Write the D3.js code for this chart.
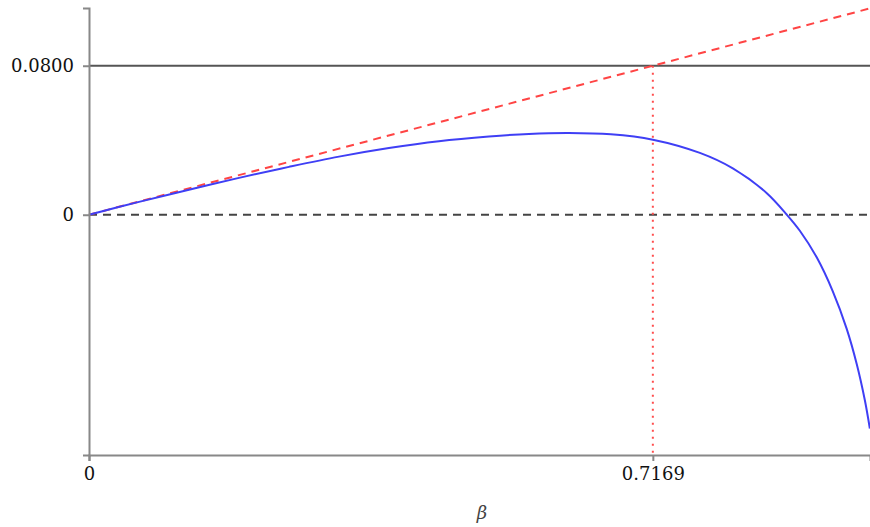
<!DOCTYPE html>
<html>
<head>
<meta charset="utf-8">
<script src="https://cdn.jsdelivr.net/npm/d3@7"></script>
<style>
  body { margin: 0; background: #fff; }
  svg text { font-family: "DejaVu Serif", serif; }
</style>
</head>
<body>
<svg id="chart" width="870" height="527"></svg>
<script>
// values
const betaMax = 0.993;
const betaStar = 0.7169;
const level = 0.08;
const yTicks = [0.08, 0];
const yTickLabels = ["0.0800", "0"];
const xTicks = [0, 0.7169];
const xTickLabels = ["0", "0.7169"];

// blue curve samples
const curveBeta = [0, 0.0636, 0.1271, 0.1907, 0.2542, 0.3178, 0.3813, 0.4449, 0.5085, 0.5593, 0.6101, 0.6635, 0.7169,
                   0.7767, 0.8186, 0.8618, 0.8873, 0.9038, 0.9254, 0.9457, 0.9635, 0.9762, 0.9864, 0.9928];
const curveVal  = [0, 0.0069, 0.0134, 0.0198, 0.0257, 0.0312, 0.0358, 0.0395, 0.0420, 0.0434, 0.0439, 0.0432, 0.0403,
                   0.0332, 0.0249, 0.0116, 0.0000, -0.0086, -0.0230, -0.0411, -0.0614, -0.0803, -0.0995, -0.1148];

// red tangent line (two ends)
const tangentBeta = [0, 0.993];
const tangentVal = [0, 0.1108];

const svg = d3.select("#chart");

const x = d3.scaleLinear().domain([0, betaMax]).range([89, 870]);
const y = d3.scaleLinear().domain([-0.129, 0.111]).range([455, 8]);

// horizontal level line
svg.append("line")
  .attr("x1", x(0)).attr("x2", x(betaMax))
  .attr("y1", y(level)).attr("y2", y(level))
  .attr("stroke", "#555").attr("stroke-width", 2);

// zero dashed line
svg.append("line")
  .attr("x1", x(0)).attr("x2", x(betaMax))
  .attr("y1", y(0)).attr("y2", y(0))
  .attr("stroke", "#444").attr("stroke-width", 2)
  .attr("stroke-dasharray", "8,6");

// vertical dotted marker
svg.append("line")
  .attr("x1", x(betaStar)).attr("x2", x(betaStar))
  .attr("y1", y(level)).attr("y2", y(-0.129))
  .attr("stroke", "#ff4d4d").attr("stroke-width", 2)
  .attr("stroke-dasharray", "2,5");

// tangent
const tangent = tangentBeta.map((b, i) => [b, tangentVal[i]]);
svg.append("path")
  .datum(tangent)
  .attr("fill", "none")
  .attr("stroke", "#ff4444").attr("stroke-width", 2)
  .attr("stroke-dasharray", "8,6")
  .attr("d", d3.line().x(d => x(d[0])).y(d => y(d[1])));

// blue curve
const pts = curveBeta.map((b, i) => [b, curveVal[i]]);
svg.append("path")
  .datum(pts)
  .attr("fill", "none")
  .attr("stroke", "#3f3ff5").attr("stroke-width", 2)
  .attr("d", d3.line().curve(d3.curveCatmullRom).x(d => x(d[0])).y(d => y(d[1])));

// axes
const yAxis = svg.append("g")
  .attr("transform", "translate(" + x(0) + ",0)")
  .call(d3.axisLeft(y).tickValues(yTicks).tickFormat((d, i) => yTickLabels[i]).tickSizeOuter(0).tickSize(6).tickPadding(9));

const xAxis = svg.append("g")
  .attr("transform", "translate(0," + y(-0.129) + ")")
  .call(d3.axisBottom(x).tickValues(xTicks).tickFormat((d, i) => xTickLabels[i]).tickSizeOuter(0).tickSize(6).tickPadding(6));

[yAxis, xAxis].forEach(g => {
  g.select(".domain").attr("stroke", "#888").attr("stroke-width", 2);
  g.selectAll(".tick line").attr("stroke", "#888").attr("stroke-width", 2);
  g.selectAll(".tick text").attr("fill", "#111").style("font-size", "18px").style("font-family", "DejaVu Serif, serif");
});

svg.append("text")
  .attr("x", 482).attr("y", 519)
  .attr("text-anchor", "middle")
  .style("font-size", "18px")
  .style("font-style", "italic")
  .attr("fill", "#444")
  .text("β");
</script>
</body>
</html>
